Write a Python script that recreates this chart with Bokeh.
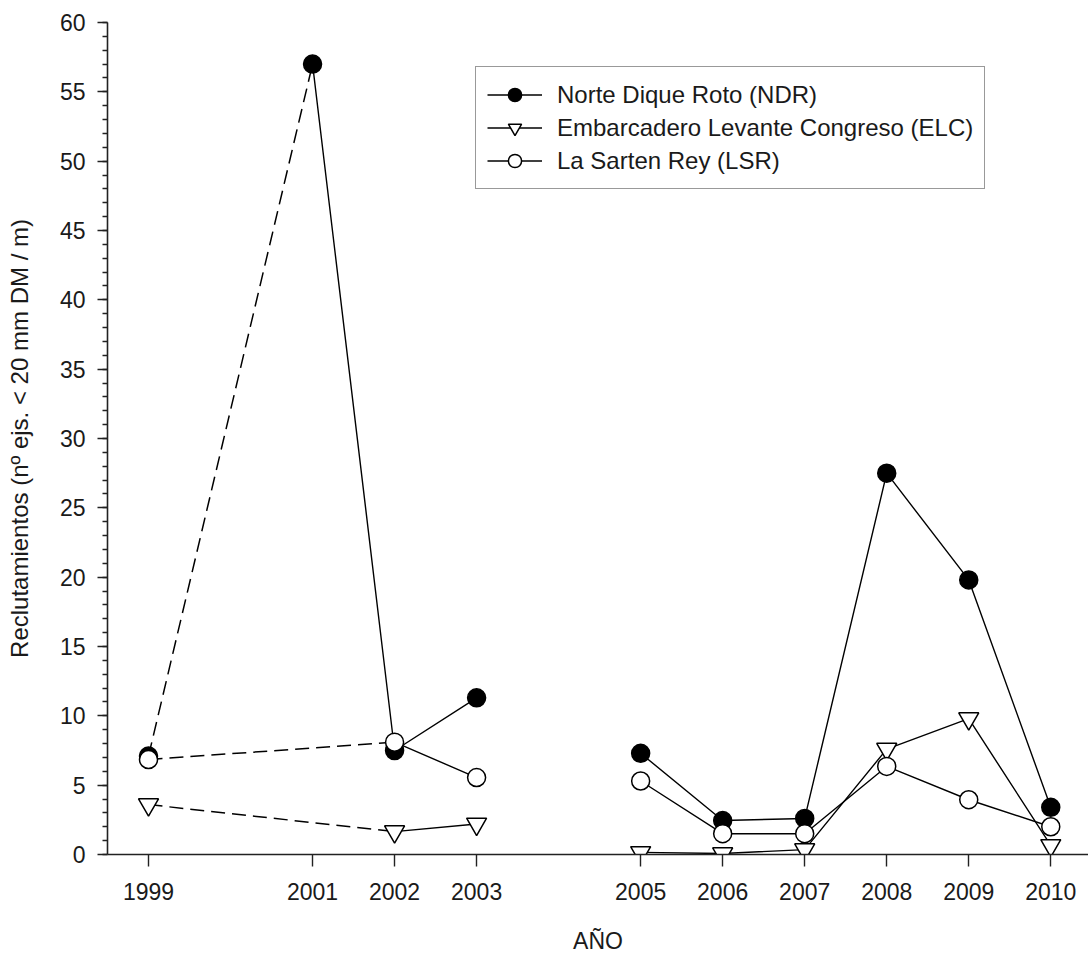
import numpy as np
from bokeh.plotting import figure
from bokeh.models import Range1d, FixedTicker, SingleIntervalTicker, Legend, LegendItem
from bokeh.embed import file_html
from bokeh.resources import INLINE

# ---- data ----
years = [1999, 2001, 2002, 2003, 2005, 2006, 2007, 2008, 2009, 2010]
ndr = [7.1, 57.0, 7.5, 11.3, 7.3, 2.45, 2.6, 27.5, 19.8, 3.4]
elc = [3.6, None, 1.65, 2.2, 0.15, 0.07, 0.35, 7.6, 9.8, 0.65]
lsr = [6.85, None, 8.1, 5.55, 5.3, 1.5, 1.5, 6.35, 3.95, 2.0]
labels = ["Norte Dique Roto (NDR)", "Embarcadero Levante Congreso (ELC)", "La Sarten Rey (LSR)"]
x_title = "AÑO"
y_title = "Reclutamientos (nº ejs. < 20 mm DM / m)"
gap_year = 2004  # no sampling: line is broken here

FONT = "Liberation Sans"
TXT = "#1a1a1a"

X0, X1 = 1998.5, 2010.46
Y0, Y1 = 0, 60

p = figure(width=1088, height=956,
           x_range=Range1d(X0, X1), y_range=Range1d(Y0, Y1),
           output_backend="svg", toolbar_location=None,
           min_border_left=107, min_border_top=22, min_border_bottom=102, min_border_right=0)
p.outline_line_color = None
p.xgrid.visible = False
p.ygrid.visible = False
p.background_fill_color = "white"


def split(vals):
    pts = [(x, v) for x, v in zip(years, vals) if v is not None]
    dashed = pts[:2]
    rest = pts[1:]
    sx, sy = [], []
    for i, (x, v) in enumerate(rest):
        if i > 0 and rest[i - 1][0] < gap_year < x:
            sx.append(np.nan)
            sy.append(np.nan)
        sx.append(x)
        sy.append(v)
    return dashed, sx, sy, pts


items = []
styles = [
    dict(marker="circle", fill_color="black", size=18),
    dict(marker="inverted_triangle", fill_color="white", size=20),
    dict(marker="circle", fill_color="white", size=18),
]
for vals, lab, st in zip([ndr, elc, lsr], labels, styles):
    dashed, sx, sy, pts = split(vals)
    p.line([d[0] for d in dashed], [d[1] for d in dashed], line_color="black",
           line_width=1.5, line_dash="14 7")
    lr = p.line(sx, sy, line_color="black", line_width=1.4)
    sr = p.scatter([q[0] for q in pts], [q[1] for q in pts], marker=st["marker"],
                   size=st["size"], fill_color=st["fill_color"], line_color="black",
                   line_width=1.5)
    items.append(LegendItem(label=lab, renderers=[lr, sr]))

legend = Legend(items=items, location=(368, 665), margin=0, padding=11,
                spacing=0, glyph_width=55, glyph_height=33, label_height=33,
                label_standoff=15,
                label_text_font=FONT, label_text_font_size="24px", label_text_color=TXT,
                border_line_color="#333333", border_line_width=1.5,
                background_fill_color="white", background_fill_alpha=1.0)
p.add_layout(legend)

# axes
for ax in (p.xaxis[0], p.yaxis[0]):
    ax.axis_line_color = "#222222"
    ax.axis_line_width = 1.6
    ax.major_tick_line_color = "#222222"
    ax.minor_tick_line_color = "#222222"
    ax.major_tick_line_width = 1.4
    ax.minor_tick_line_width = 1.4
    ax.major_tick_in = 0
    ax.minor_tick_in = 0
    ax.major_label_text_font = FONT
    ax.major_label_text_font_size = "23px"
    ax.major_label_text_color = TXT
    ax.axis_label_text_font = FONT
    ax.axis_label_text_font_style = "normal"
    ax.axis_label_text_color = TXT

p.xaxis.ticker = FixedTicker(ticks=years)
p.xaxis.major_tick_out = 12
p.xaxis.minor_tick_out = 0
p.xaxis.major_label_standoff = 16
p.xaxis.axis_label = x_title
p.xaxis.axis_label_text_font_size = "23px"
p.xaxis.axis_label_standoff = 25

p.yaxis.ticker = SingleIntervalTicker(interval=5, num_minor_ticks=5)
p.yaxis.major_tick_out = 10
p.yaxis.minor_tick_out = 5
p.yaxis.major_label_standoff = 12
p.yaxis.axis_label = y_title
p.yaxis.axis_label_text_font_size = "24px"
p.yaxis.axis_label_standoff = 24

open("out.html", "w").write(file_html(p, INLINE))
